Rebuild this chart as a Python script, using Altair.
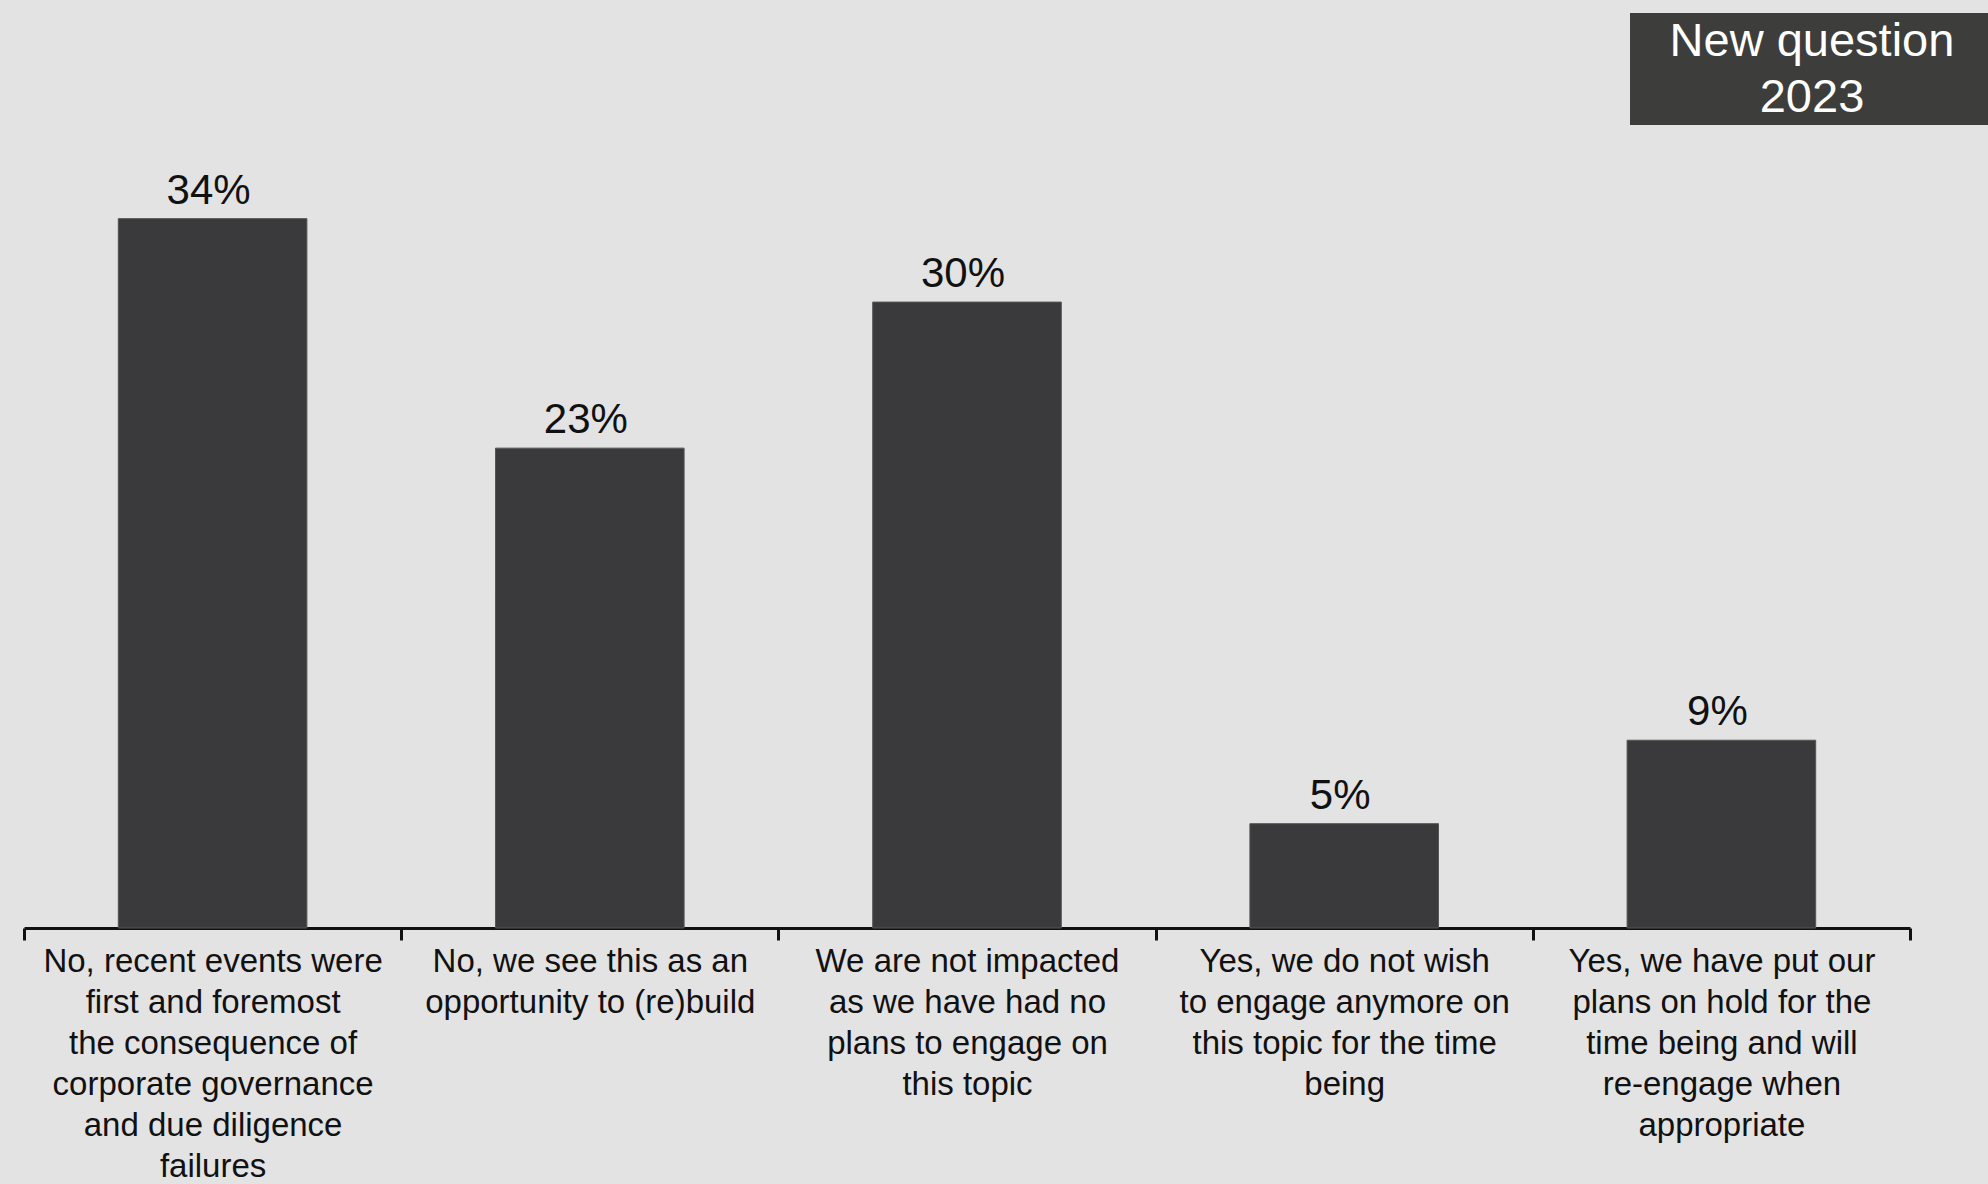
import altair as alt
import pandas as pd

categories = [
    "No, recent events were\nfirst and foremost\nthe consequence of\ncorporate governance\nand due diligence\nfailures",
    "No, we see this as an\nopportunity to (re)build",
    "We are not impacted\nas we have had no\nplans to engage on\nthis topic",
    "Yes, we do not wish\nto engage anymore on\nthis topic for the time\nbeing",
    "Yes, we have put our\nplans on hold for the\ntime being and will\nre-engage when\nappropriate",
]
values = [34, 23, 30, 5, 9]
value_labels = ["34%", "23%", "30%", "5%", "9%"]
badge_lines = ["New question", "2023"]

FONT = "Liberation Sans"
BG = "#e3e3e3"
BAR = "#3a3a3c"

df = pd.DataFrame({"cat": categories, "val": values, "lab": value_labels})

x = alt.X(
    "cat:N",
    sort=categories,
    title=None,
    scale=alt.Scale(paddingInner=0, paddingOuter=0),
    axis=alt.Axis(
        labelAngle=0,
        labelExpr="split(datum.label, '\\n')",
        labelFont=FONT,
        labelFontSize=33,
        labelColor="#111111",
        labelLineHeight=41,
        labelLimit=0,
        labelPadding=5,
        labelBaseline="top",
        tickBand="extent",
        tickSize=12,
        tickWidth=3,
        tickColor="#111111",
        domainColor="#111111",
        domainWidth=3,
    ),
)
y = alt.Y("val:Q", scale=alt.Scale(domain=[0, 44], nice=False, zero=True), axis=None)

bars = alt.Chart(df).mark_bar(
    color=BAR, stroke="#555555", strokeWidth=1, width=alt.RelativeBandSize(0.5)
).encode(x=x, y=y)
texts = alt.Chart(df).mark_text(
    font=FONT, fontSize=42, color="#111111", baseline="bottom", dy=-6, dx=-4
).encode(x=x, y=y, text="lab:N")

badge_df = pd.DataFrame({"t": [badge_lines]})
badge_rect = alt.Chart(badge_df).mark_rect(color="#3d3d3b").encode(
    x=alt.value(1606), x2=alt.value(1970), y=alt.value(3), y2=alt.value(115)
)
badge_text = alt.Chart(badge_df).mark_text(
    font=FONT, fontSize=47, color="white", lineHeight=56, baseline="middle", align="center"
).encode(x=alt.value(1788), y=alt.value(32), text="t")

chart = (
    alt.layer(bars, texts, badge_rect, badge_text)
    .properties(
        width=1886,
        height=918,
        background=BG,
        padding={"left": 24, "top": 10, "right": 78, "bottom": 256},
        autosize=alt.AutoSizeParams(type="none"),
    )
    .configure_view(stroke=None)
)

chart.save("out.html", embed_options={"renderer": "svg", "actions": False})
